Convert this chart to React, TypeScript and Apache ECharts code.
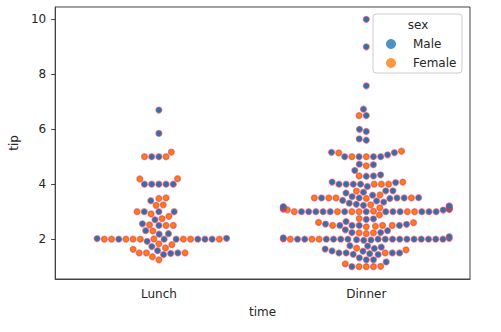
import React, { useEffect, useRef } from "react";
import * as echarts from "echarts";

const categories = ["Lunch", "Dinner"];
const yTicks = [2, 4, 6, 8, 10];
const sexes = ["Male", "Female"];
const sexColors = ["#1f77b4", "#ff7f0e"];

// tips in original row order, with matching sex codes (M / F)
const lunchTip = [
  4.0, 3.0, 2.71, 3.0, 3.4, 1.83, 5.0, 2.03, 5.17, 2.0, 4.0, 5.85, 3.0,
  1.5, 1.8, 2.92, 2.31, 1.68, 2.5, 2.0, 2.52, 4.2, 1.48, 2.0, 2.0, 2.18, 1.5, 2.83, 1.5, 2.0, 3.25, 1.25, 2.0, 2.0, 2.0, 2.75, 3.5, 6.7, 5.0, 5.0, 2.3, 1.5, 1.36, 1.63, 1.73, 2.0,
  4.19, 2.56, 2.02, 4.0, 1.44, 2.0, 5.0, 2.0, 2.0, 4.0, 2.01, 2.0, 2.5, 4.0, 3.23,
  2.2, 3.48, 1.92, 3.0, 1.58, 2.5, 2.0,
];
const lunchSex = [
  "M", "M", "M", "M", "M", "F", "M", "M", "F", "M", "M", "M", "M",
  "F", "F", "F", "M", "F", "M", "M", "F", "F", "M", "F", "F", "M", "M", "F", "F", "F", "F", "F", "F", "F", "M", "F", "F", "M", "M", "F", "F", "F", "F", "F", "M", "M",
  "F", "M", "M", "M", "M", "M", "F", "F", "M", "M", "F", "F", "F", "M", "F",
  "M", "F", "M", "F", "M", "F", "F",
];
const dinnerTip = [
  1.01, 1.66, 3.5, 3.31, 3.61, 4.71, 2.0, 3.12, 1.96, 3.23, 1.71, 5.0, 1.57, 3.0, 3.02, 3.92, 1.67, 3.71, 3.5, 3.35,
  4.08, 2.75, 2.23, 7.58, 3.18, 2.34, 2.0, 2.0, 4.3, 3.0, 1.45, 2.5, 3.0, 2.45, 3.27, 3.6, 2.0, 3.07, 2.31, 5.0,
  2.24, 2.54, 3.06, 1.32, 5.6, 3.0, 5.0, 6.0, 2.05, 3.0, 2.5, 2.6, 5.2, 1.56, 4.34, 3.51, 3.0, 1.5, 1.76, 6.73,
  3.21, 2.0, 1.98, 3.76, 2.64, 3.15, 2.47, 1.0, 2.01, 2.09, 1.97, 3.0, 3.14, 5.0, 2.2, 1.25, 3.08,
  3.0, 3.5, 1.0, 4.3, 3.25, 4.73, 4.0, 1.5, 3.0, 1.5, 2.5, 3.0, 2.5, 3.48, 4.08, 1.64, 4.06, 4.29, 3.76, 4.0,
  3.0, 1.0, 4.0, 2.55, 4.0, 3.5, 5.07,
  2.5, 2.0, 2.74, 2.0, 2.0, 5.14, 5.0, 3.75, 2.61, 2.0, 3.5, 2.5, 2.0, 2.0, 3.0, 3.48, 2.24, 4.5, 1.61, 2.0,
  10.0, 3.16, 5.15, 3.18, 4.0, 3.11, 2.0, 2.0, 4.0, 3.55, 3.68, 5.65, 3.5, 6.5, 3.0, 5.0, 3.5, 2.0, 3.5, 4.0, 1.5,
  3.41, 3.0, 2.03, 2.23, 2.0, 5.16, 9.0, 2.5, 6.5, 1.1, 3.0, 1.5, 1.44, 3.09,
  3.0, 2.72, 2.88, 2.0, 3.0, 3.39, 1.47, 3.0, 1.25, 1.0, 1.17, 4.67, 5.92, 2.0, 2.0, 1.75, 3.0,
];
const dinnerSex = [
  "F", "M", "M", "M", "F", "M", "M", "M", "M", "M", "M", "F", "M", "M", "F", "M", "F", "M", "F", "M",
  "M", "F", "F", "M", "M", "M", "M", "M", "M", "F", "M", "M", "F", "F", "M", "M", "M", "F", "M", "M",
  "M", "M", "M", "M", "M", "M", "M", "M", "M", "M", "M", "F", "F", "M", "M", "M", "M", "F", "M", "M",
  "M", "M", "M", "M", "M", "M", "F", "F", "M", "M", "M", "F", "F", "F", "F", "M", "M",
  "M", "M", "F", "F", "F", "M", "M", "M", "M", "M", "F", "F", "F", "F", "F", "M", "M", "M", "M", "F",
  "M", "F", "M", "M", "F", "F", "M",
  "M", "M", "M", "M", "M", "F", "M", "F", "F", "M", "M", "M", "F", "M", "F", "M", "M", "M", "F", "F",
  "M", "M", "M", "M", "M", "M", "M", "M", "F", "M", "M", "M", "M", "M", "M", "M", "F", "M", "F", "M", "M",
  "M", "M", "M", "F", "M", "M", "M", "F", "F", "F", "M", "M", "M", "F",
  "M", "M", "F", "M", "M", "M", "M", "M", "M", "M", "M", "F", "M", "F", "M", "M", "F",
];

const groups = [
  { tips: lunchTip, sex: lunchSex },
  { tips: dinnerTip, sex: dinnerSex },
];

// seaborn-style beeswarm: ys are upward pixel positions sorted ascending
function beeswarm(ys: number[], d: number): number[] {
  const placed: { x: number; y: number }[] = [];
  ys.forEach((y, i) => {
    if (i === 0) {
      placed.push({ x: 0, y });
      return;
    }
    const neighbors: { x: number; y: number }[] = [];
    for (let j = placed.length - 1; j >= 0; j--) {
      if (y - placed[j].y < d) neighbors.unshift(placed[j]);
      else break;
    }
    const cands: { x: number; y: number }[] = [{ x: 0, y }];
    let leftFirst = true;
    for (const n of neighbors) {
      const dy = y - n.y;
      const dx = Math.sqrt(Math.max(d * d - dy * dy, 0)) * 1.05;
      const cl = { x: n.x - dx, y };
      const cr = { x: n.x + dx, y };
      if (leftFirst) cands.push(cl, cr);
      else cands.push(cr, cl);
      leftFirst = !leftFirst;
    }
    const ordered = cands
      .map((c, k) => ({ c, k }))
      .sort((a, b) => Math.abs(a.c.x) - Math.abs(b.c.x) || a.k - b.k)
      .map((o) => o.c);
    let chosen = ordered[0];
    if (neighbors.length) {
      for (const c of ordered) {
        const ok = neighbors.every(
          (n) => (n.x - c.x) ** 2 + (n.y - c.y) ** 2 >= d * d - 1e-9
        );
        if (ok) {
          chosen = c;
          break;
        }
      }
    }
    placed.push(chosen);
  });
  return placed.map((p) => p.x);
}

const font = "DejaVu Sans";
const textColor = "#262626";
const axisColor = "#444";

export default function App() {
  const ref = useRef<HTMLDivElement>(null);
  useEffect(() => {
    if (!ref.current) return;
    const chart = echarts.init(ref.current, undefined, { renderer: "svg" });
    const base: any = {
      animation: false,
      textStyle: { fontFamily: font },
      grid: {
        left: 50,
        right: 31,
        top: 7,
        bottom: 53,
        show: true,
        borderColor: axisColor,
        borderWidth: 1,
      },
      xAxis: [
        {
          type: "category",
          data: categories,
          boundaryGap: true,
          axisLine: { onZero: false, lineStyle: { color: axisColor, width: 1 } },
          axisTick: { alignWithLabel: true, length: 4, lineStyle: { color: axisColor } },
          axisLabel: { color: textColor, fontSize: 12, margin: 9, fontFamily: font },
          splitLine: { show: false },
          name: "time",
          nameLocation: "middle",
          nameGap: 27,
          nameTextStyle: { color: textColor, fontSize: 12, fontFamily: font },
        },
        { type: "value", min: -0.5, max: 1.5, show: false, axisLine: { onZero: false } },
      ],
      yAxis: {
        type: "value",
        min: 0.55,
        max: 10.45,
        axisLine: { show: true, onZero: false, lineStyle: { color: axisColor, width: 1 } },
        axisTick: { show: true, length: 4, customValues: yTicks, lineStyle: { color: axisColor } },
        axisLabel: { color: textColor, fontSize: 12, margin: 9, customValues: yTicks, fontFamily: font },
        splitLine: { show: false },
        name: "tip",
        nameLocation: "middle",
        nameGap: 32,
        nameRotate: 90,
        nameTextStyle: { color: textColor, fontSize: 12, fontFamily: font },
      },
      legend: {
        orient: "vertical",
        left: 386,
        top: 37,
        padding: 0,
        itemWidth: 10,
        itemHeight: 10,
        itemGap: 5,
        icon: "circle",
        data: sexes,
        selectedMode: false,
        z: 5,
        formatter: (name: string) => `{n|${name}}`,
        textStyle: {
          color: textColor,
          fontSize: 12,
          lineHeight: 14,
          fontFamily: font,
          rich: {
            n: {
              color: textColor,
              fontSize: 12,
              lineHeight: 14,
              fontFamily: font,
              padding: [0, 0, 0, 12],
            },
          },
        },
      },
      graphic: [
        {
          type: "rect",
          x: 373,
          y: 14,
          z: 3,
          shape: { x: 0, y: 0, width: 89, height: 59, r: 3 },
          style: { fill: "rgba(255,255,255,0.8)", stroke: "#cccccc", lineWidth: 1 },
        },
        {
          type: "text",
          x: 418,
          y: 25,
          z: 4,
          style: {
            text: "sex",
            fill: textColor,
            font: `12px "${font}"`,
            align: "center",
            verticalAlign: "middle",
          },
        },
      ],
      series: [
        ...sexes.map((s, i) => ({
          name: s,
          type: "scatter",
          data: [],
          itemStyle: { color: sexColors[i] },
        })),
        { name: "swarm", type: "scatter", xAxisIndex: 1, data: [], silent: true },
      ],
    };
    chart.setOption(base);

    const d = 6.86;
    const swarmData: any[] = [];
    groups.forEach((g, ci) => {
      const idx = g.tips.map((_, i) => i).sort((a, b) => g.tips[a] - g.tips[b]);
      const ysUp = idx.map(
        (i) => -(chart.convertToPixel({ xAxisIndex: 1, yAxisIndex: 0 }, [ci, g.tips[i]]) as number[])[1]
      );
      const cx = (chart.convertToPixel({ xAxisIndex: 1, yAxisIndex: 0 }, [ci, 1]) as number[])[0];
      const hx = (chart.convertToPixel({ xAxisIndex: 1, yAxisIndex: 0 }, [ci + 0.4, 1]) as number[])[0];
      const half = hx - cx;
      const offs = beeswarm(ysUp, d).map((o) => Math.max(-half, Math.min(half, o)));
      idx.forEach((i, k) => {
        const xPix = cx + offs[k];
        const xVal = (chart.convertFromPixel({ xAxisIndex: 1, yAxisIndex: 0 }, [xPix, 0]) as number[])[0];
        const si = g.sex[i] === "M" ? 0 : 1;
        swarmData.push({ value: [xVal, g.tips[i]], itemStyle: { color: sexColors[si] } });
      });
    });

    chart.setOption({
      series: [
        {},
        {},
        {
          name: "swarm",
          type: "scatter",
          xAxisIndex: 1,
          yAxisIndex: 0,
          silent: true,
          symbol: "circle",
          symbolSize: 5.8,
          itemStyle: { borderColor: "rgba(220,60,90,0.6)", borderWidth: 1.4, opacity: 1 },
          data: swarmData,
        },
      ],
    });

    return () => chart.dispose();
  }, []);
  return <div ref={ref} style={{ width: 501, height: 332, position: "absolute", left: 0, top: 0 }} />;
}
